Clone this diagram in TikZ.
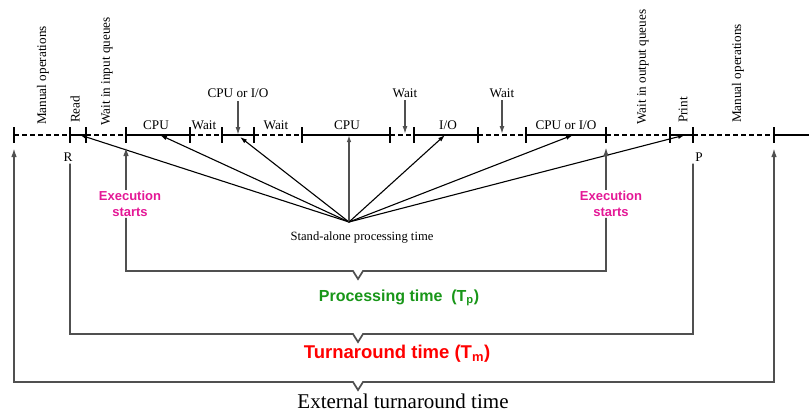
\documentclass[tikz,border=0pt]{standalone}
\usepackage{fontspec}
\setmainfont{Liberation Serif}
\newfontfamily\lsans{Liberation Sans}
\usetikzlibrary{arrows.meta}
\definecolor{magex}{RGB}{228,24,150}
\definecolor{greenp}{RGB}{24,150,24}
\definecolor{redt}{RGB}{255,0,0}
\definecolor{brkgray}{RGB}{80,80,80}
\tikzset{
  dashline/.style={line width=1.3pt,dash pattern=on 4.5pt off 3.5pt},
  solidline/.style={line width=1.3pt},
  tickmark/.style={line width=1.3pt},
  lbl/.style={font=\fontsize{13.2}{15}\selectfont,inner sep=0pt},
  vlbl/.style={font=\fontsize{13.2}{15}\selectfont,inner sep=0pt,rotate=90,anchor=west},
  exlbl/.style={font=\lsans\bfseries\fontsize{13}{16}\selectfont,text=magex,align=center,inner sep=1pt},
  brk/.style={line width=1.7pt,draw=brkgray},
  fan/.style={line width=1.1pt,-{Latex[length=7pt,width=4.5pt]}},
  downarr/.style={line width=1.4pt,draw=brkgray,-{Latex[length=8pt,width=5pt]}}
}
\begin{document}
\begin{tikzpicture}[x=1pt,y=-1pt]
\useasboundingbox (0,0) rectangle (809,413);

% timeline
\foreach \a/\b in {14/70,86/126,190/222,254/302,390/414,478/526,606/670,693/774}
  \draw[dashline] (\a,135) -- (\b,135);
\foreach \a/\b in {70/86,126/190,222/254,302/390,414/478,526/606,670/693,774/809}
  \draw[solidline] (\a,135) -- (\b,135);
\foreach \x in {14,70,86,126,190,222,254,302,390,414,478,526,606,670,693,774}
  \draw[tickmark] (\x,127) -- (\x,143);

% named points on the timeline
\coordinate (t0) at (14,135);
\coordinate (tR) at (70,135);
\coordinate (es1) at (126,135);
\coordinate (es2) at (606,135);
\coordinate (tP) at (693,135);
\coordinate (tE) at (774,135);
\coordinate (aRead) at (80,135);
\coordinate (aCPU1) at (160,135);
\coordinate (aCIO1) at (240,137);
\coordinate (aCPU2) at (349,135);
\coordinate (aIO) at (445,135);
\coordinate (aCIO2) at (573,135);
\coordinate (aPrint) at (685,135);
\coordinate (hub) at (349,222);

% vertical labels
\node[vlbl] (man1) at (43,125) {Manual operations};
\node[vlbl] (read) at (75,123) {Read};
\node[vlbl] (wiq) at (107,126) {Wait in input queues};
\node[vlbl] (woq) at (643,125) {Wait in output queues};
\node[vlbl] (print) at (683,123) {Print};
\node[vlbl] (man2) at (738,123) {Manual operations};

% labels on the line
\node[lbl,anchor=base] (cpu1) at (156,129) {CPU};
\node[lbl,anchor=base] (w1) at (204,129) {Wait};
\node[lbl,anchor=base] (w2) at (276,129) {Wait};
\node[lbl,anchor=base] (cpu2) at (347,129) {CPU};
\node[lbl,anchor=base] (io) at (448,129) {I/O};
\node[lbl,anchor=base] (cio2) at (566,129) {CPU or I/O};

% labels with arrows from above
\node[lbl,anchor=base,inner sep=1pt] (cio1) at (238,97) {CPU or I/O};
\node[lbl,anchor=base,inner sep=1pt] (w3) at (405,97) {Wait};
\node[lbl,anchor=base,inner sep=1pt] (w4) at (502,97) {Wait};
\draw[downarr] (cio1.south) ++(0,3) -- (238,135);
\draw[downarr] (w3.south) ++(0,2) -- (405,134);
\draw[downarr] (w4.south) ++(0,2) -- (502,134);

% R and P
\node[lbl] (R) at (68,157) {R};
\node[lbl] (P) at (699,157) {P};

% fan of stand-alone processing time
\draw[fan] (hub) -- (aRead);
\draw[fan] (hub) -- (aCPU1);
\draw[fan] (hub) -- (aCIO1);
\draw[fan,line width=1.4pt,draw=brkgray] (hub) -- (aCPU2);
\draw[fan] (hub) -- (aIO);
\draw[fan] (hub) -- (aCIO2);
\draw[fan] (hub) -- (aPrint);
\node[lbl,font=\fontsize{12.6}{15}\selectfont] (sapt) at (362,237) {Stand-alone processing time};

% execution starts
\node[exlbl] (ex1) at (130,204) {Execution\\starts};
\node[exlbl] (ex2) at (611,204) {Execution\\starts};
\draw[brk,-{Latex[length=9pt,width=5.5pt]}] (ex1.north -| es1) -- (126,147);
\draw[brk,-{Latex[length=9pt,width=5.5pt]}] (ex2.north -| es2) -- (606,147);

% processing time bracket
\draw[brk] (ex1.south -| es1) |- (353,271) -- (358,279) -- (363,271) -| (ex2.south -| es2);
\node[font=\lsans\bfseries\fontsize{16}{18}\selectfont,text=greenp] (pt) at (399,298)
  {Processing time\ \ (T\textsubscript{p})};

% turnaround bracket
\draw[brk] (R.south -| tR) ++(0,2) |- (353,334) -- (358,342) -- (363,334) -| ([yshift=-2pt]P.south -| tP);
\node[font=\lsans\bfseries\fontsize{18.5}{20}\selectfont,text=redt] (tt) at (397,354)
  {Turnaround time (T\textsubscript{m})};

% external turnaround bracket
\draw[brk,{Latex[length=9pt,width=5.5pt]}-{Latex[length=9pt,width=5.5pt]}]
  (14,148) |- (353,382) -- (358,390) -- (363,382) -| (774,148);
\node[font=\fontsize{21}{24}\selectfont] (ext) at (403,401) {External turnaround time};
\end{tikzpicture}
\end{document}
